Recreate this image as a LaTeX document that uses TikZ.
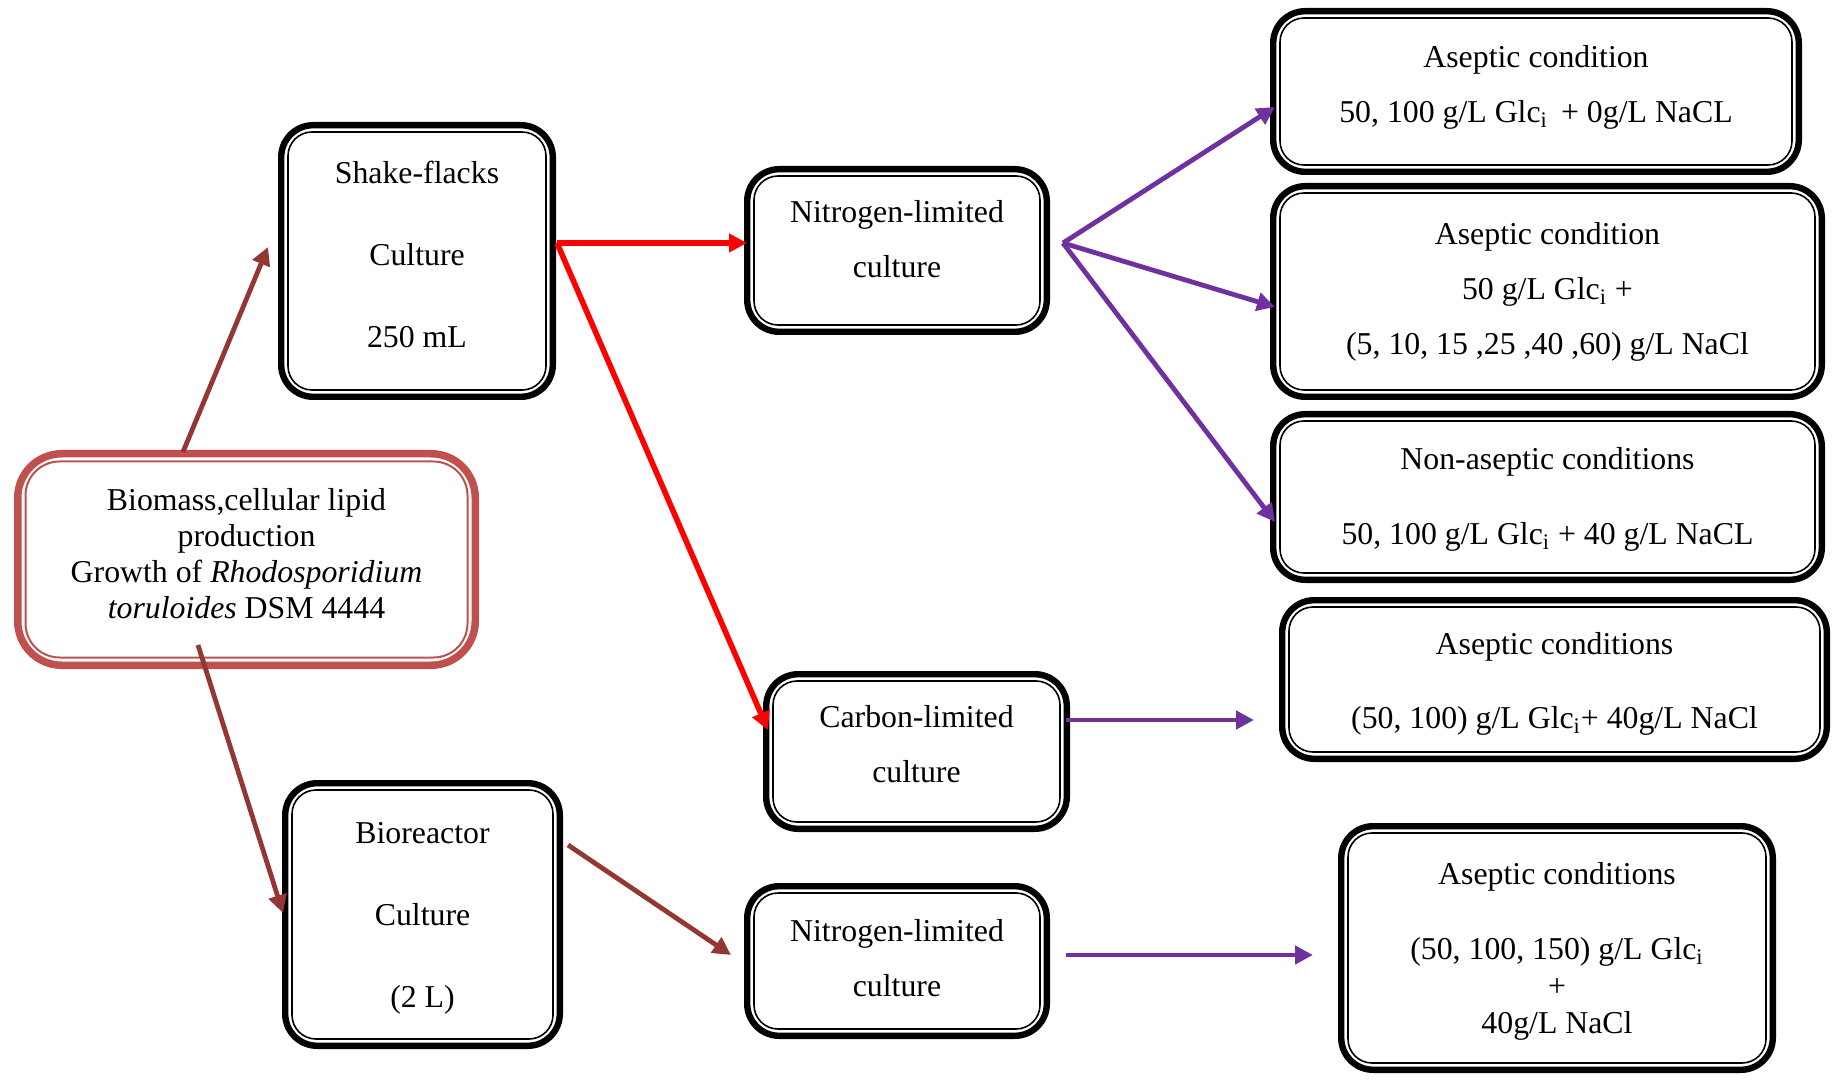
\documentclass[tikz,border=0pt]{standalone}
\usepackage{fontspec}
\setmainfont{Liberation Serif}
\usetikzlibrary{calc,arrows.meta}
\definecolor{bred}{HTML}{C0504D}
\definecolor{dred}{HTML}{943634}
\definecolor{pur}{HTML}{7030A0}
\definecolor{rd}{HTML}{FF0000}
\newcommand{\glci}{Glc\textsubscript{i}}
\begin{document}
\begin{tikzpicture}[x=0.5pt,y=-0.5pt,
  tbox/.style={draw=black, line width=3.2pt, rounded corners=16pt, align=center, inner sep=0pt},
  fs/.style={font=\fontsize{15.9}{#1}\selectfont},
  biobox/.style={draw=bred, line width=3.75pt, rounded corners=22pt, align=center, inner sep=0pt},
  innerline/.style={draw=black, line width=0.8pt, rounded corners=12pt},
  arr/.style={line width=2.4pt, -{Triangle[length=9pt,width=9pt]}},
  arrred/.style={arr, draw=rd, fill=rd, line width=2.8pt, -{Triangle[length=9pt,width=9pt]}},
  arrdark/.style={arr, draw=dred, fill=dred},
  arrpur/.style={arr, draw=pur, fill=pur}]
\useasboundingbox[fill=white] (0,0) rectangle (1832,1080);

% boxes
\node[biobox, fs=18.1, minimum width=228.75pt, minimum height=105.75pt, text depth=6pt] (bio) at (246.5,559.5)
  {Biomass,cellular lipid\\production\\Growth of \textit{Rhodosporidium}\\\textit{toruloides} DSM 4444};
\node[tbox, fs=41, minimum width=135.8pt, minimum height=135.8pt, text depth=7pt] (shake) at (417,261)
  {Shake-flacks\\Culture\\250 mL};
\node[tbox, fs=27.5, minimum width=149.8pt, minimum height=81.3pt, text depth=12pt] (ntop) at (897,250.5)
  {Nitrogen-limited\\culture};
\node[tbox, fs=27.5, minimum width=150.3pt, minimum height=77.3pt, text depth=7.6pt] (carbon) at (916.5,751.5)
  {Carbon-limited\\culture};
\node[tbox, fs=41, minimum width=137.3pt, minimum height=131.3pt, text height=96.4pt] (bior) at (422.5,914.5)
  {Bioreactor\\Culture\\(2 L)};
\node[tbox, fs=27.5, minimum width=149.8pt, minimum height=74.8pt, text depth=3.5pt] (nbot) at (897,961)
  {Nitrogen-limited\\culture};
\node[tbox, fs=27.5, minimum width=262.8pt, minimum height=80.3pt, text depth=8pt] (ac1) at (1536,91.5)
  {Aseptic condition\\50, 100 g/L \glci{} \,+ 0g/L NaCL};
\node[tbox, fs=27.5, minimum width=274.3pt, minimum height=105.3pt] (ac2) at (1547.5,291.5)
  {Aseptic condition\\50 g/L \glci{} +\\(5, 10, 15 ,25 ,40 ,60) g/L NaCl};
\node[tbox, fs=37.5, minimum width=274.3pt, minimum height=82.8pt, text height=50.8pt] (nonasep) at (1547.5,497)
  {Non-aseptic conditions\\50, 100 g/L \glci{} + 40 g/L NaCL};
\node[tbox, fs=37, minimum width=272.3pt, minimum height=79.3pt, text height=52.5pt] (acC) at (1554.5,679.5)
  {Aseptic conditions\\(50, 100) g/L \glci+ 40g/L NaCl};
\node[tbox, fs=18.4, minimum width=215.8pt, minimum height=121.8pt, text height=88.7pt] (acB) at (1557,948)
  {Aseptic conditions\\[19.1pt](50, 100, 150) g/L \glci\\+\\40g/L NaCl};

% inner thin lines
\draw[draw=bred, line width=1pt, rounded corners=17pt] ($(bio.south west)+(11.5,-11.5)$) rectangle ($(bio.north east)+(-11.5,11.5)$);
\foreach \n in {shake,ntop,carbon,bior,nbot,ac1,ac2,nonasep,acC,acB}
  \draw[innerline] ($(\n.south west)+(10,-10)$) rectangle ($(\n.north east)+(-10,10)$);

% connectors
\draw[arrdark] ($(bio.north)+(-63.5,2)$) -- ($(shake.west)+(-10,-14)$);
\draw[arrdark] ($(bio.south)+(-48.5,-24)$) -- ($(bior.west)+(1,-1.5)$);
\draw[arrred] ($(shake.east)+(1,-18)$) -- ($(ntop.west)+(3,-7.5)$);
\draw[arrred] ($(shake.east)+(1,-18)$) -- ($(carbon.west)+(5,-21.5)$);
\draw[arrdark] ($(bior.east)+(5,-69.5)$) -- ($(nbot.west)+(-13,-6)$);
\draw[arrpur] ($(ntop.east)+(13,-7.5)$) -- ($(ac1.west)+(5,15.5)$);
\draw[arrpur] ($(ntop.east)+(13,-7.5)$) -- ($(ac2.west)+(5,15.5)$);
\draw[arrpur] ($(ntop.east)+(13,-7.5)$) -- ($(nonasep.west)+(5,25)$);
\draw[arrpur] ($(carbon.east)+(-4,-31.5)$) -- ($(acC.west)+(-25,40.5)$);
\draw[arrpur] ($(nbot.east)+(16,-6)$) -- ($(acB.west)+(-25,7)$);
\end{tikzpicture}
\end{document}
